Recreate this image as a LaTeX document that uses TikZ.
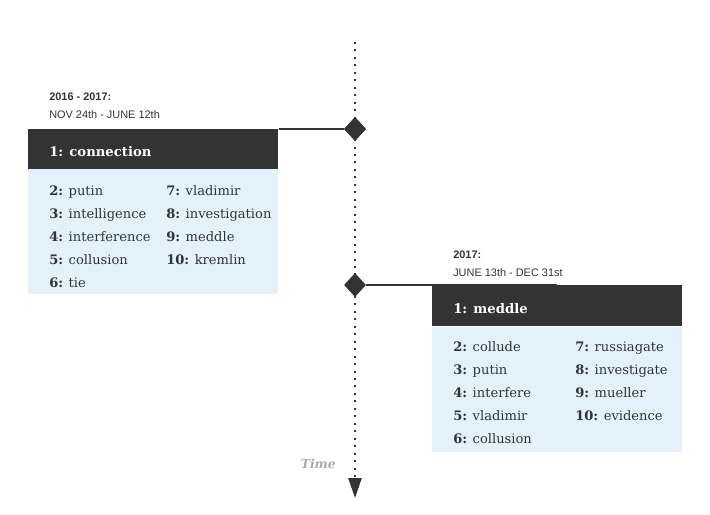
\documentclass[tikz,border=0pt]{standalone}
\usepackage{fontspec}
\setmainfont{DejaVu Serif}
\newfontfamily\datefont{Liberation Sans}
\usetikzlibrary{shapes.geometric,arrows.meta}
\definecolor{darkbar}{HTML}{333333}
\definecolor{paleblue}{HTML}{E3F2FA}
\definecolor{inkgrey}{HTML}{333333}
\definecolor{timegrey}{HTML}{AAAAAA}
\tikzset{
  headbox/.style={fill=darkbar, anchor=north west, inner sep=0pt, minimum width=187.5pt, minimum height=30.75pt},
  listbox/.style={fill=paleblue, anchor=north west, inner sep=0pt, minimum width=187.5pt, minimum height=93.75pt},
  headtext/.style={anchor=base west, inner sep=0pt, text=white, font=\fontsize{9.9}{13}\selectfont\bfseries},
  item/.style={anchor=base west, inner sep=0pt, text=inkgrey, font=\fontsize{9.8}{12}\selectfont},
  datebold/.style={anchor=base west, inner sep=0pt, text=inkgrey, font=\datefont\fontsize{8.2}{9}\selectfont\bfseries},
  datetext/.style={anchor=base west, inner sep=0pt, text=inkgrey, font=\datefont\fontsize{8.2}{9}\selectfont},
  marker/.style={diamond, fill=darkbar, inner sep=0pt, minimum width=16.5pt, minimum height=18pt},
  link/.style={draw=darkbar, line width=0.8pt},
  timeline/.style={draw=darkbar, line width=1.1pt, dash pattern=on 1.5pt off 4.1pt, -{Triangle[width=10pt,length=15pt]}}
}
\begin{document}
\begin{tikzpicture}[x=0.75pt,y=-0.75pt]
\useasboundingbox (0,0) rectangle (710,514);
% timeline
\coordinate (top) at (355,42);
\coordinate (bottom) at (355,498);
\draw[timeline] (top) -- (bottom);
\node[anchor=base east, inner sep=0pt, text=timegrey, font=\fontsize{9.3}{12}\selectfont\bfseries\itshape] (time) at (336,468) {Time};
% first period
\node[datebold] (y1) at (49,100) {2016 - 2017:};
\node[datetext] (r1) at (49,118) {NOV 24th - JUNE 12th};
\node[marker] (d1) at (355,129) {};
\node[headbox] (hd1) at (28,129) {};
\node[listbox] (bd1) at (28,169) {};
\draw[link] (d1) -- (d1 -| hd1.east);
\node[marker] at (d1) {};
\node[headtext] (t1) at (49,156) {1: connection};
\node[item] (a2) at (49,195) {\textbf{2:} putin};
\node[item] (a3) at (49,218) {\textbf{3:} intelligence};
\node[item] (a4) at (49,241) {\textbf{4:} interference};
\node[item] (a5) at (49,264) {\textbf{5:} collusion};
\node[item] (a6) at (49,287) {\textbf{6:} tie};
\node[item] (a7) at (166,195) {\textbf{7:} vladimir};
\node[item] (a8) at (166,218) {\textbf{8:} investigation};
\node[item] (a9) at (166,241) {\textbf{9:} meddle};
\node[item] (a10) at (166,264) {\textbf{10:} kremlin};
% second period
\node[datebold] (y2) at (453,258) {2017:};
\node[datetext] (r2) at (453,276) {JUNE 13th - DEC 31st};
\node[marker] (d2) at (355,285) {};
\node[headbox] (hd2) at (432,285) {};
\node[listbox] (bd2) at (432,327) {};
\draw[link] (d2) -- (hd2.north);
\node[headtext] (t2) at (453,313) {1: meddle};
\node[item] (b2) at (453,351) {\textbf{2:} collude};
\node[item] (b3) at (453,374) {\textbf{3:} putin};
\node[item] (b4) at (453,397) {\textbf{4:} interfere};
\node[item] (b5) at (453,420) {\textbf{5:} vladimir};
\node[item] (b6) at (453,443) {\textbf{6:} collusion};
\node[item] (b7) at (575,351) {\textbf{7:} russiagate};
\node[item] (b8) at (575,374) {\textbf{8:} investigate};
\node[item] (b9) at (575,397) {\textbf{9:} mueller};
\node[item] (b10) at (575,420) {\textbf{10:} evidence};
\end{tikzpicture}
\end{document}
